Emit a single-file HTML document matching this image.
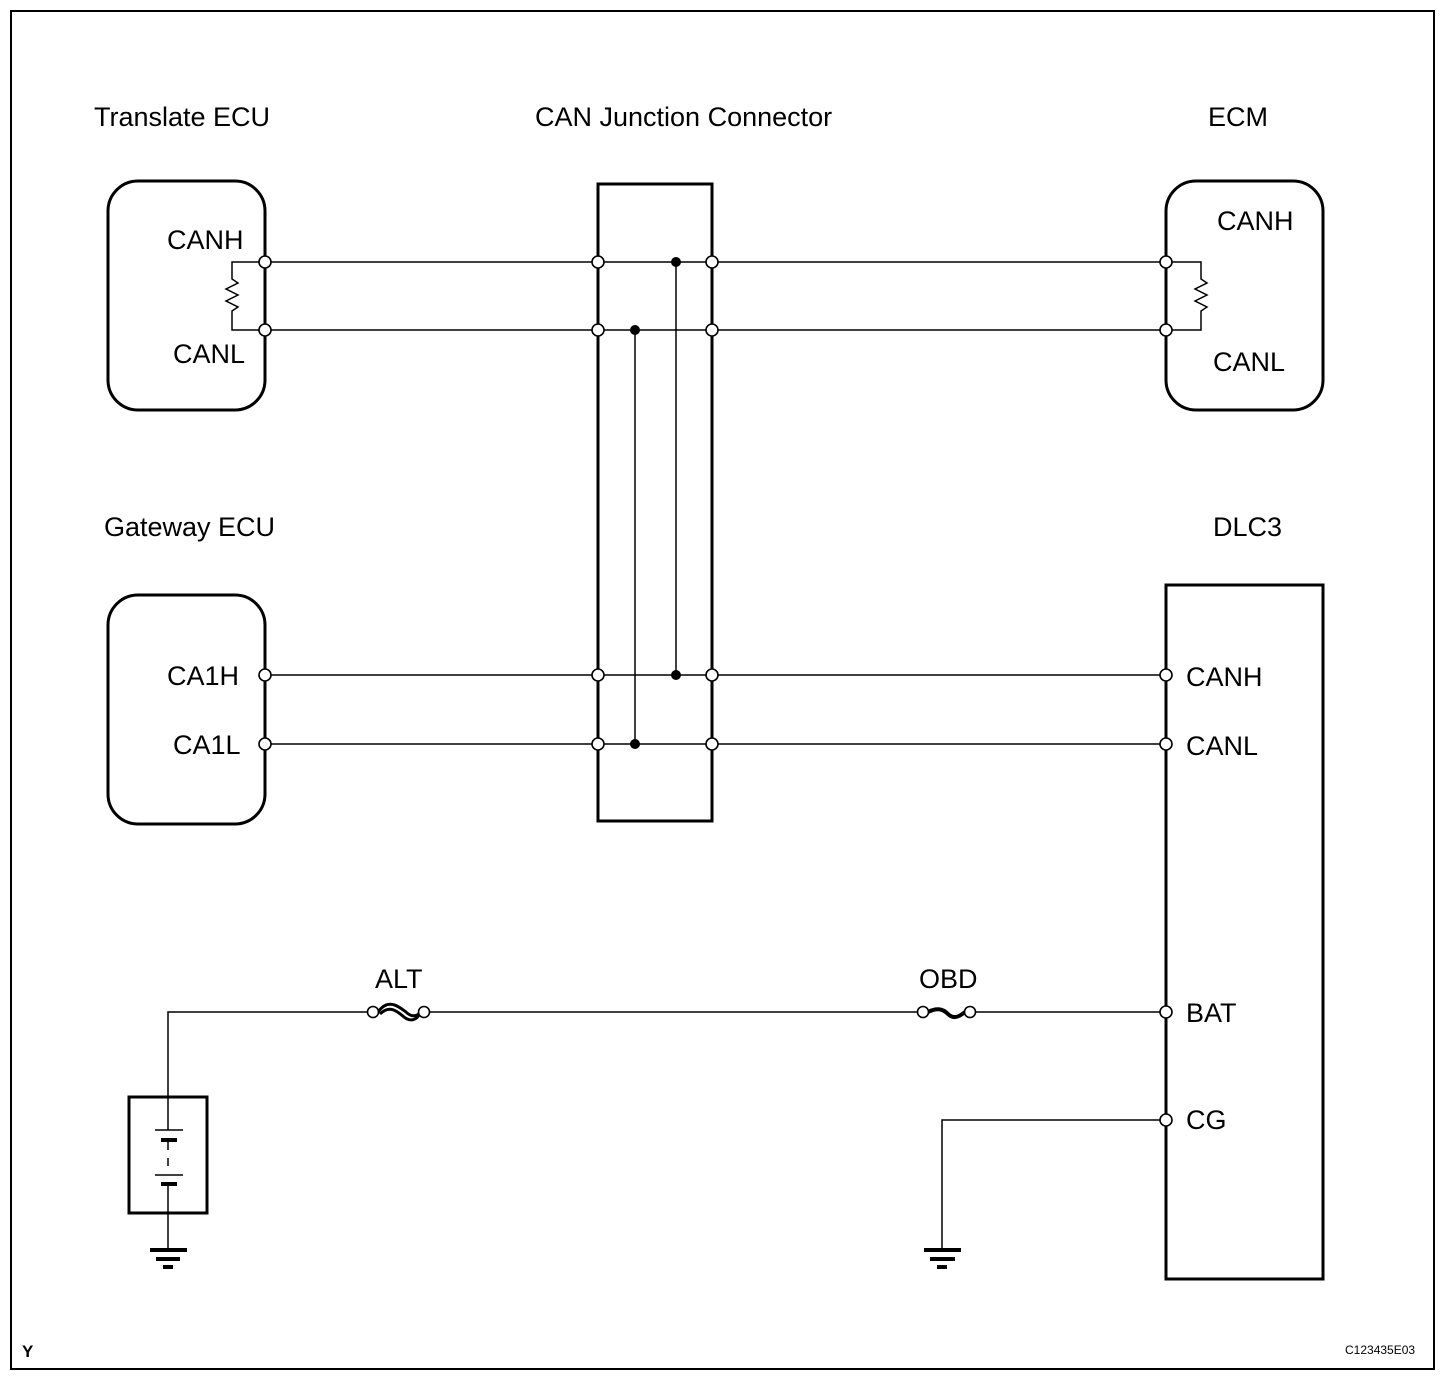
<!DOCTYPE html>
<html><head><meta charset="utf-8"><style>
html,body{margin:0;padding:0;background:#fff}
svg{display:block}
text{font-family:"Liberation Sans",Arial,sans-serif;fill:#000}
</style></head><body>
<svg width="1456" height="1382" viewBox="0 0 1456 1382" xmlns="http://www.w3.org/2000/svg">
<rect x="11" y="11" width="1423" height="1358" fill="none" stroke="#000" stroke-width="2"/>
<g font-size="27">
<text x="94" y="126">Translate ECU</text>
<text x="535" y="126">CAN Junction Connector</text>
<text x="1208" y="126">ECM</text>
<text x="104" y="536">Gateway ECU</text>
<text x="1213" y="536">DLC3</text>
<text x="167" y="249">CANH</text>
<text x="173" y="363">CANL</text>
<text x="1217" y="230">CANH</text>
<text x="1213" y="371">CANL</text>
<text x="167" y="685">CA1H</text>
<text x="173" y="754">CA1L</text>
<text x="1186" y="686">CANH</text>
<text x="1186" y="755">CANL</text>
<text x="1186" y="1022">BAT</text>
<text x="1186" y="1129">CG</text>
<text x="375" y="988">ALT</text>
<text x="919" y="988">OBD</text>
</g>
<text x="22" y="1357" font-size="17" font-weight="bold">Y</text>
<text x="1345" y="1354" font-size="12">C123435E03</text>
<g fill="none" stroke="#000" stroke-width="3">
<rect x="108" y="181" width="157" height="229" rx="30"/>
<rect x="108" y="595" width="157" height="229" rx="30"/>
<rect x="1166" y="181" width="157" height="229" rx="30"/>
<rect x="1166" y="585" width="157" height="694"/>
<rect x="598" y="184" width="114" height="637"/>
<rect x="129" y="1097" width="78" height="116"/>
</g>
<g fill="none" stroke="#000" stroke-width="1.5">
<path d="M265 262H1166M265 330H1166M265 675H1166M265 744H1166"/>
<path d="M676 262V675M635 330V744"/>
<path d="M265 262H232V279L238 283L226 289L238 295L226 301L238 307L232 311V330H265"/>
<path d="M1166 262H1201V279L1207 283L1195 289L1207 295L1195 301L1207 307L1201 311V330H1166"/>
<path d="M1166 1012H971M922 1012H424M372 1012H168V1130M168 1140V1150M168 1158V1166M168 1184V1250"/>
<path d="M155 1130H183M155 1175H183"/>
<path d="M1166 1120H942V1250"/>
</g>
<g stroke="#000" stroke-width="4">
<path d="M161 1140H177M161 1184H177"/>
<path d="M150 1250H187M156 1259H180M163 1267H173"/>
<path d="M924 1250H961M930 1259H955M937 1267H947"/>
</g>
<path d="M378 1012C388 998 398 1006 406 1012C412 1018 418 1016 420 1012M380 1014C390 1004 398 1012 404 1017C410 1022 416 1020 419 1015" fill="none" stroke="#000" stroke-width="3"/>
<path d="M928 1012C936 1008 942 1008 948 1014C954 1020 960 1016 965 1012" fill="none" stroke="#000" stroke-width="4"/>
<g fill="#fff" stroke="#000" stroke-width="1.6">
<circle cx="265" cy="262" r="6"/><circle cx="265" cy="330" r="6"/>
<circle cx="265" cy="675" r="6"/><circle cx="265" cy="744" r="6"/>
<circle cx="598" cy="262" r="6"/><circle cx="598" cy="330" r="6"/>
<circle cx="598" cy="675" r="6"/><circle cx="598" cy="744" r="6"/>
<circle cx="712" cy="262" r="6"/><circle cx="712" cy="330" r="6"/>
<circle cx="712" cy="675" r="6"/><circle cx="712" cy="744" r="6"/>
<circle cx="1166" cy="262" r="6"/><circle cx="1166" cy="330" r="6"/>
<circle cx="1166" cy="675" r="6"/><circle cx="1166" cy="744" r="6"/>
<circle cx="1166" cy="1012" r="6"/><circle cx="1166" cy="1120" r="6"/>
<circle cx="373" cy="1012" r="5.5"/><circle cx="424" cy="1012" r="5.5"/>
<circle cx="923" cy="1012" r="5.5"/><circle cx="970" cy="1012" r="5.5"/>
</g>
<g fill="#000">
<circle cx="676" cy="262" r="5"/><circle cx="676" cy="675" r="5"/>
<circle cx="635" cy="330" r="5"/><circle cx="635" cy="744" r="5"/>
</g>
</svg>
</body></html>
